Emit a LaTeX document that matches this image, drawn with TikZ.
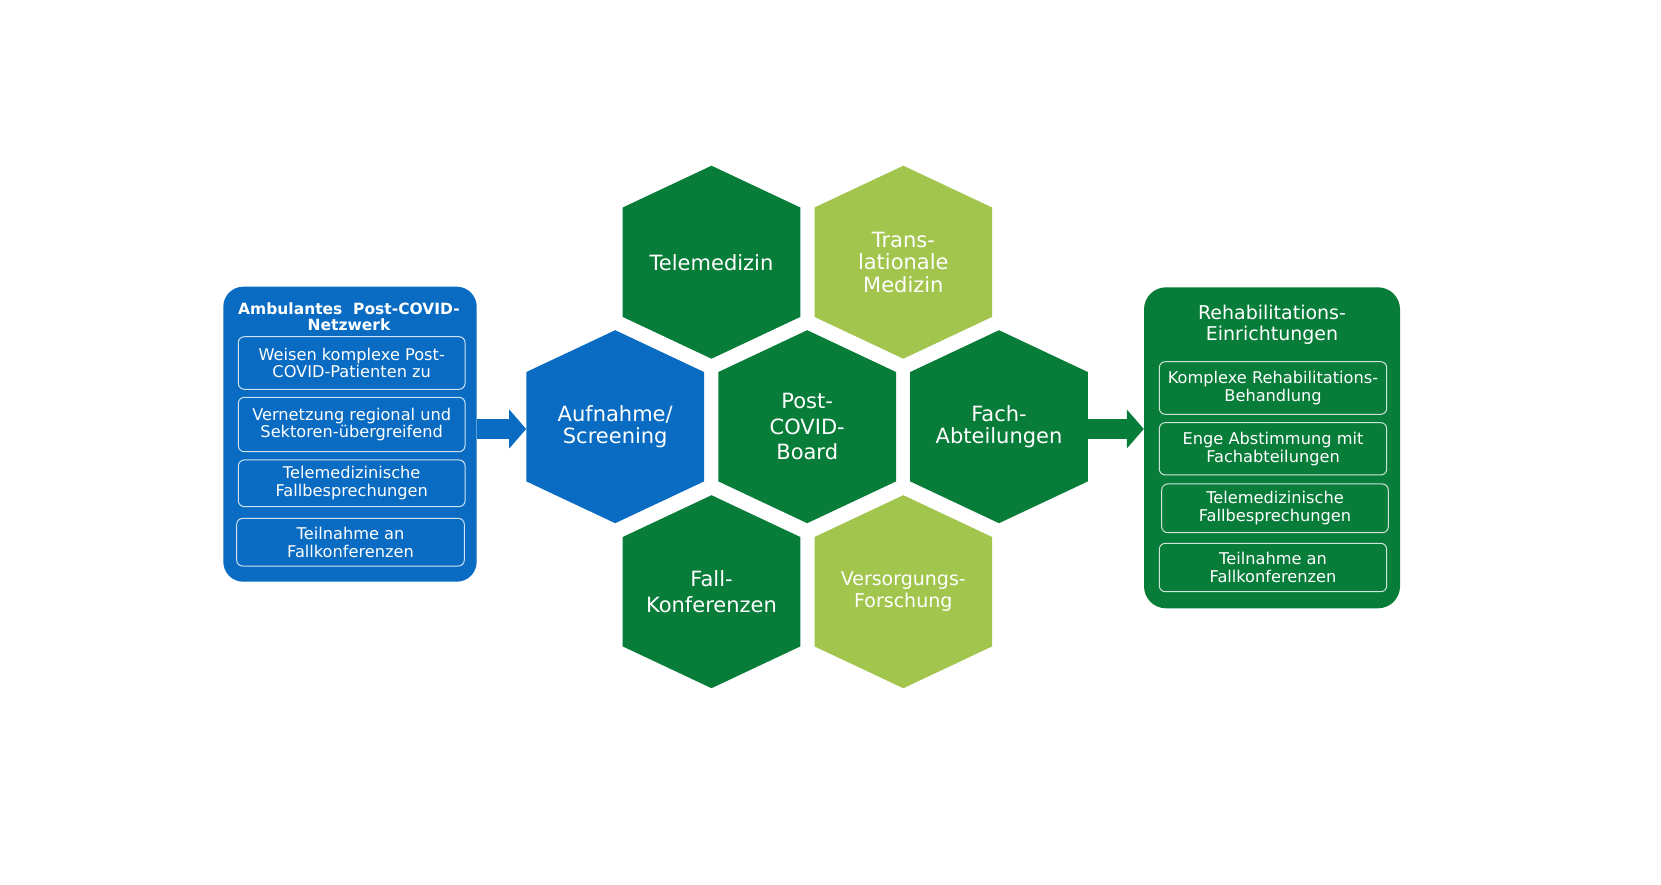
\documentclass[tikz,border=0pt]{standalone}
\usepackage{fontspec}
\setmainfont{DejaVu Sans}
\usetikzlibrary{arrows.meta,calc}
\definecolor{cblue}{RGB}{9,108,194}
\definecolor{cdkgreen}{RGB}{8,125,58}
\definecolor{cltgreen}{RGB}{162,197,77}
\begin{document}
\begin{tikzpicture}[x=1pt,y=-1pt,
  hexa/.style={minimum width=177.6pt, minimum height=193pt, inner sep=0pt,
    text=white, align=center, font=\fontsize{21}{25.4}\selectfont,
    path picture={\fill[#1]
      ([shift={(-88.8,-54.7)}]path picture bounding box.center) --
      ([shift={(0,-96.5)}]path picture bounding box.center) --
      ([shift={(88.8,-54.7)}]path picture bounding box.center) --
      ([shift={(88.8,54.7)}]path picture bounding box.center) --
      ([shift={(0,96.5)}]path picture bounding box.center) --
      ([shift={(-88.8,54.7)}]path picture bounding box.center) -- cycle;}},
  bigbox/.style={inner sep=0pt, draw=none},
  ibox/.style={draw=white!80!#1, line width=1pt, rounded corners=6pt,
    inner sep=0pt, text=white, align=center,
    font=\fontsize{16.2}{17.6}\selectfont},
  conn/.style={#1, line width=20pt, -{Triangle[length=17pt,width=38pt]}}
]
\useasboundingbox (0,0) rectangle (1661,884);
\fill[white] (0,0) rectangle (1661,884);

% hexagons
\node[hexa=cdkgreen] (tele) at (711.5,262.2) {Telemedizin};
\node[hexa=cltgreen, font=\fontsize{21}{22.3}\selectfont] (trans) at (903.3,262.2) {Trans-\\lationale\\Medizin};
\node[hexa=cblue, font=\fontsize{21}{22.5}\selectfont] (aufn) at (615.2,426.7) {Aufnahme/\\Screening};
\node[hexa=cdkgreen] (board) at (807.2,426.7) {Post-\\COVID-\\Board};
\node[hexa=cdkgreen, font=\fontsize{21}{22.5}\selectfont] (fach) at (999,426.7) {Fach-\\Abteilungen};
\node[hexa=cdkgreen] (fall) at (711.5,591.7) {Fall-\\Konferenzen};
\node[hexa=cltgreen, font=\fontsize{19}{22.3}\selectfont] (vers) at (903.3,591.7) {Versorgungs-\\Forschung};

% left box
\node[bigbox, fill=cblue, minimum width=253.4pt, minimum height=295pt, rounded corners=20pt] (lbox) at (350,434.2) {};
\node[text=white, align=center, font=\bfseries\fontsize{15.5}{15.7}\selectfont] (ltitle) at (349,317) {Ambulantes\ \ Post-COVID-\\Netzwerk};
\node[ibox=cblue, minimum width=226.7pt, minimum height=52.6pt] (l1) at (351.7,363) {Weisen komplexe Post-\\COVID-Patienten zu};
\node[ibox=cblue, minimum width=226.7pt, minimum height=54.4pt] (l2) at (351.7,424.5) {Vernetzung regional und\\Sektoren-übergreifend};
\node[ibox=cblue, minimum width=226.7pt, minimum height=46.7pt] (l3) at (351.7,483.3) {Telemedizinische\\Fallbesprechungen};
\node[ibox=cblue, minimum width=227.6pt, minimum height=47.7pt] (l4) at (350.5,542.2) {Teilnahme an\\Fallkonferenzen};

% right box
\node[bigbox, fill=cdkgreen, minimum width=256pt, minimum height=321pt, rounded corners=22pt] (rbox) at (1272,447.8) {};
\node[text=white, align=center, font=\fontsize{19}{21.5}\selectfont] (rtitle) at (1272,325) {Rehabilitations-\\Einrichtungen};
\node[ibox=cdkgreen, minimum width=227.4pt, minimum height=52.6pt] (r1) at (1273,388) {Komplexe Rehabilitations-\\Behandlung};
\node[ibox=cdkgreen, minimum width=227.4pt, minimum height=52.3pt] (r2) at (1273,448.8) {Enge Abstimmung mit\\Fachabteilungen};
\node[ibox=cdkgreen, minimum width=226.6pt, minimum height=48.7pt] (r3) at (1275,508.3) {Telemedizinische\\Fallbesprechungen};
\node[ibox=cdkgreen, minimum width=227.4pt, minimum height=48.4pt] (r4) at (1273,567.5) {Teilnahme an\\Fallkonferenzen};

% arrows
\draw[conn=cblue] (lbox.east |- 0,429) -- (aufn.west |- 0,429);
\draw[conn=cdkgreen] (fach.east |- 0,429) -- (rbox.west |- 0,429);
\end{tikzpicture}
\end{document}
